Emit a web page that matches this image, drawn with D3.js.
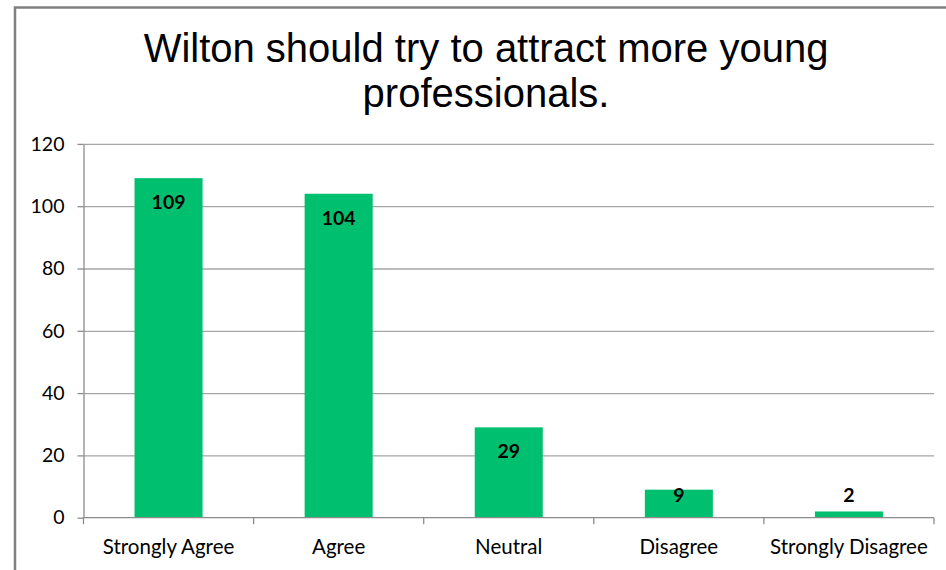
<!DOCTYPE html>
<html>
<head>
<meta charset="utf-8">
<script src="https://cdn.jsdelivr.net/npm/d3@7"></script>
<style>
  html, body { margin: 0; padding: 0; background: #fff; }
  svg { display: block; }
</style>
</head>
<body>
<svg id="chart" width="946" height="570"></svg>
<script>
// Survey responses
const categories = ["Strongly Agree", "Agree", "Neutral", "Disagree", "Strongly Disagree"];
const counts = [109, 104, 29, 9, 2];
const yTicks = [0, 20, 40, 60, 80, 100, 120];
const titleLines = ["Wilton should try to attract more young", "professionals."];

const W = 946, H = 570;
const plot = { left: 83.5, right: 934, top: 143.9, bottom: 517.7 };
const barColor = "#00C070";
const gridColor = "#A6A6A6";
const axisColor = "#8C8C8C";
const labelFont = "Lato, 'Open Sans', sans-serif";

const svg = d3.select("#chart");
svg.append("rect").attr("width", W).attr("height", H).attr("fill", "#fff");

// chart frame (top and left edges)
svg.append("path")
  .attr("d", `M15,${H} L15,7.5 L${W},7.5`)
  .attr("fill", "none")
  .attr("stroke", "#808080")
  .attr("stroke-width", 2.5);

// title
svg.append("g").selectAll("text")
  .data(titleLines)
  .join("text")
  .attr("x", 486)
  .attr("y", (d, i) => 62 + i * 45)
  .attr("text-anchor", "middle")
  .attr("font-family", "'Liberation Sans', Arial, sans-serif")
  .attr("font-size", 40)
  .attr("fill", "#000")
  .text(d => d);

const x = d3.scaleBand()
  .domain(categories)
  .range([plot.left, plot.right])
  .paddingInner(0.6)
  .paddingOuter(0.3);

const y = d3.scaleLinear()
  .domain([0, 120])
  .range([plot.bottom, plot.top]);

// horizontal gridlines
svg.append("g")
  .attr("transform", `translate(${plot.left},0)`)
  .call(d3.axisLeft(y).tickValues(yTicks.filter(v => v > 0)).tickSize(-(plot.right - plot.left)).tickFormat(""))
  .call(g => g.select(".domain").remove())
  .call(g => g.selectAll("line").attr("stroke", gridColor).attr("stroke-width", 1.3));

// y axis
svg.append("g")
  .attr("transform", `translate(${plot.left},0)`)
  .call(d3.axisLeft(y).tickValues(yTicks).tickSize(6).tickPadding(13).tickSizeOuter(0))
  .call(g => g.select(".domain").attr("stroke", axisColor).attr("stroke-width", 1.3))
  .call(g => g.selectAll("line").attr("stroke", axisColor).attr("stroke-width", 1.3))
  .call(g => g.selectAll("text")
    .attr("font-family", labelFont)
    .attr("font-size", 19.5)
    .attr("fill", "#000"));

// bars
svg.append("g").selectAll("rect")
  .data(categories)
  .join("rect")
  .attr("x", d => x(d))
  .attr("width", x.bandwidth())
  .attr("y", (d, i) => y(counts[i]))
  .attr("height", (d, i) => y(0) - y(counts[i]))
  .attr("fill", barColor);

// x axis line and category divider ticks
const step = x.step();
const edges = categories.map(c => x(c) - step * 0.3).concat([x(categories[categories.length - 1]) - step * 0.3 + step]);
const xAxis = svg.append("g");
xAxis.append("line")
  .attr("x1", plot.left).attr("x2", plot.right)
  .attr("y1", y(0)).attr("y2", y(0))
  .attr("stroke", axisColor).attr("stroke-width", 1.3);
xAxis.selectAll("line.tick")
  .data(edges)
  .join("line")
  .attr("class", "tick")
  .attr("x1", d => d).attr("x2", d => d)
  .attr("y1", y(0)).attr("y2", y(0) + 6.5)
  .attr("stroke", axisColor).attr("stroke-width", 1.3);

// category labels
svg.append("g").selectAll("text")
  .data(categories)
  .join("text")
  .attr("x", d => x(d) + x.bandwidth() / 2)
  .attr("y", 554)
  .attr("text-anchor", "middle")
  .attr("font-family", labelFont)
  .attr("font-size", 20.5)
  .attr("fill", "#000")
  .text(d => d);

// value labels, kept above the axis when the bar is short
svg.append("g").selectAll("text")
  .data(counts)
  .join("text")
  .attr("x", (d, i) => x(categories[i]) + x.bandwidth() / 2)
  .attr("y", d => Math.min(y(d) + 31, y(0) - 16))
  .attr("text-anchor", "middle")
  .attr("font-family", labelFont)
  .attr("font-weight", "bold")
  .attr("font-size", 19.5)
  .attr("fill", "#000")
  .text(d => d);
</script>
</body>
</html>
